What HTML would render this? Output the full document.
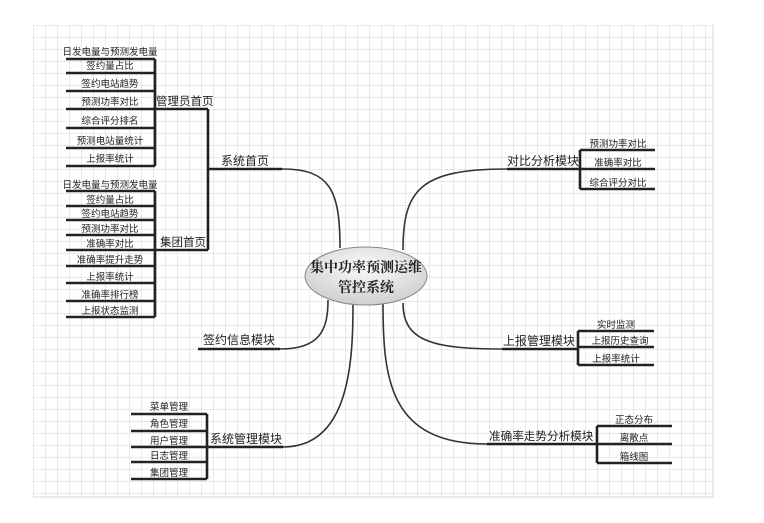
<!DOCTYPE html>
<html><head><meta charset="utf-8"><style>
html,body{margin:0;padding:0;background:#fff}
svg{display:block}
text{font-family:"Liberation Sans","Noto Sans CJK SC",sans-serif;fill:#222}
</style></head><body>
<svg width="764" height="523" viewBox="0 0 764 523" xmlns="http://www.w3.org/2000/svg">
<defs>
<pattern id="g" x="33" y="25" width="12" height="12" patternUnits="userSpaceOnUse">
<path d="M0 0H12M0 0V12" stroke="#d4d4d4" stroke-width="1" fill="none"/>
</pattern>
<radialGradient id="eg" cx="50%" cy="35%" r="65%">
<stop offset="0" stop-color="#fafafa"/><stop offset="1" stop-color="#cfcfcf"/>
</radialGradient>
</defs>
<rect x="33" y="25" width="680" height="472" fill="url(#g)"/>
<path d="M713 25V497H33" stroke="#d4d4d4" fill="none"/>

<g fill="none" stroke="#333" stroke-width="1.6">
<path d="M282 169 C330 169 340 190 340 248"/>
<path d="M403 250 C403 190 420 169 507 169"/>
<path d="M403 303 C403 340 430 349 502 349"/>
<path d="M280 349 C320 349 328 330 328 300"/>
<path d="M353 304 C353 360 350 447 283 447"/>
<path d="M383 304 C383 380 390 444 487 444"/>
</g>

<ellipse cx="366" cy="276" rx="61" ry="29" fill="url(#eg)" stroke="#888" stroke-width="1"/>
<text x="366" y="272" text-anchor="middle" style="font-family:'Liberation Serif','Noto Serif CJK SC',serif;font-weight:bold;font-size:14px">集中功率预测运维</text>
<text x="366" y="292" text-anchor="middle" style="font-family:'Liberation Serif','Noto Serif CJK SC',serif;font-weight:bold;font-size:14px">管控系统</text>

<g stroke="#222" stroke-width="2.6" fill="none">
<path d="M66 59H155M66 73H155M66 91H155M66 109H155M66 128H155M66 148H155M66 166H155M155 59V166"/>
<path d="M155 109H208M208 109V250M208 169H282"/>
<path d="M66 191H155M66 206H155M66 220H155M66 235H155M66 250H155M66 266H155M66 283H155M66 301H155M66 317H155M155 191V317M155 250H208"/>
<path d="M507 169H580M580 150V189M580 150H655M580 169H655M580 189H655"/>
<path d="M502 349H578M578 331V365M578 331H654M578 347H654M578 365H654"/>
<path d="M198 349H280"/>
<path d="M131 414H207M131 431H207M131 447H207M131 462H207M131 479H207M207 414V479M207 447H283"/>
<path d="M487 444H597M597 426V463M597 426H672M597 444H672M597 463H672"/>
</g>

<g font-size="9.5" text-anchor="middle">
<text x="110" y="55">日发电量与预测发电量</text>
<text x="110" y="69">签约量占比</text>
<text x="110" y="87">签约电站趋势</text>
<text x="110" y="105">预测功率对比</text>
<text x="110" y="124">综合评分排名</text>
<text x="110" y="144">预测电站量统计</text>
<text x="110" y="162">上报率统计</text>
<text x="110" y="188">日发电量与预测发电量</text>
<text x="110" y="203">签约量占比</text>
<text x="110" y="217">签约电站趋势</text>
<text x="110" y="232">预测功率对比</text>
<text x="110" y="247">准确率对比</text>
<text x="110" y="263">准确率提升走势</text>
<text x="110" y="280">上报率统计</text>
<text x="110" y="298">准确率排行榜</text>
<text x="110" y="314">上报状态监测</text>
<text x="618" y="147">预测功率对比</text>
<text x="618" y="166">准确率对比</text>
<text x="618" y="186">综合评分对比</text>
<text x="616" y="328">实时监测</text>
<text x="620" y="344">上报历史查询</text>
<text x="616" y="362">上报率统计</text>
<text x="169" y="410">菜单管理</text>
<text x="169" y="427">角色管理</text>
<text x="169" y="444">用户管理</text>
<text x="169" y="459">日志管理</text>
<text x="169" y="476">集团管理</text>
<text x="634" y="423">正态分布</text>
<text x="634" y="441">离散点</text>
<text x="634" y="460">箱线图</text>
</g>
<g font-size="11.5">
<text x="156" y="105">管理员首页</text>
<text x="160" y="246">集团首页</text>
</g>
<g font-size="12">
<text x="221" y="165">系统首页</text>
<text x="507" y="165">对比分析模块</text>
<text x="503" y="345">上报管理模块</text>
<text x="203" y="344">签约信息模块</text>
<text x="210" y="443">系统管理模块</text>
</g>
<text x="489" y="440" font-size="11.6">准确率走势分析模块</text>
</svg>
</body></html>
